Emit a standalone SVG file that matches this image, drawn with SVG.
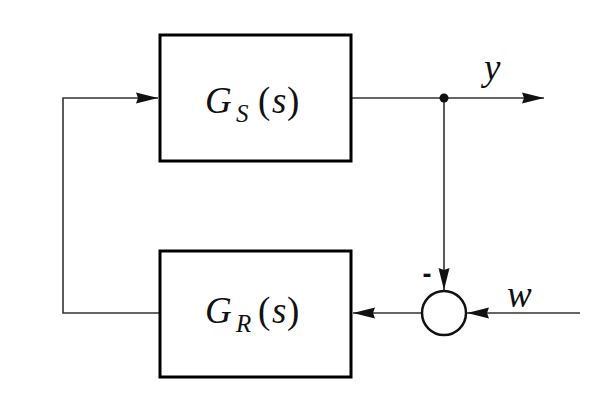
<svg xmlns="http://www.w3.org/2000/svg" width="594" height="400" viewBox="0 0 594 400">
<style>
.box{fill:#fff;stroke:#000;stroke-width:3}
.wire{fill:none;stroke:#333;stroke-width:1.6}
.m{font-family:'Liberation Serif','DejaVu Serif',serif;font-size:37px;fill:#111}
</style>
<defs>
<marker id="arr" markerUnits="userSpaceOnUse" markerWidth="23" markerHeight="12" refX="22" refY="6" orient="auto">
<path d="M0,0.5 L22,6 L0,11.5 L2,6 z" fill="#111"/>
</marker>
</defs>
<rect width="594" height="400" fill="#fff"/>
<g id="connectors">
<path class="wire" d="M351,98 H544" marker-end="url(#arr)"/>
<path class="wire" d="M444,98 V290" marker-end="url(#arr)"/>
<path class="wire" d="M580,313 H467" marker-end="url(#arr)"/>
<path class="wire" d="M422,313 H353" marker-end="url(#arr)"/>
<path class="wire" d="M160,313 H63 V98 H158" marker-end="url(#arr)"/>
<circle cx="444" cy="98" r="4.5" fill="#111"/>
</g>
<g id="GS">
<rect class="box" x="160" y="35" width="191" height="126"/>
<text class="m" y="113"><tspan x="205" font-style="italic">G</tspan><tspan x="236" y="122" font-style="italic" font-size="25">S</tspan><tspan x="258" y="113">(</tspan><tspan x="272" font-style="italic">s</tspan><tspan x="287">)</tspan></text>
</g>
<g id="GR">
<rect class="box" x="160" y="251" width="191" height="126"/>
<text class="m" y="323"><tspan x="205" font-style="italic">G</tspan><tspan x="236" y="332" font-style="italic" font-size="25">R</tspan><tspan x="258" y="323">(</tspan><tspan x="272" font-style="italic">s</tspan><tspan x="287">)</tspan></text>
</g>
<g id="sum">
<circle cx="444" cy="313" r="22" fill="#fff" stroke="#111" stroke-width="2.5"/>
<text x="427" y="283" text-anchor="middle" font-family="Liberation Sans, sans-serif" font-weight="bold" font-size="27" fill="#111">-</text>
</g>
<text class="m" font-style="italic" x="484" y="80">y</text>
<text class="m" font-style="italic" x="507" y="307">w</text>
</svg>
